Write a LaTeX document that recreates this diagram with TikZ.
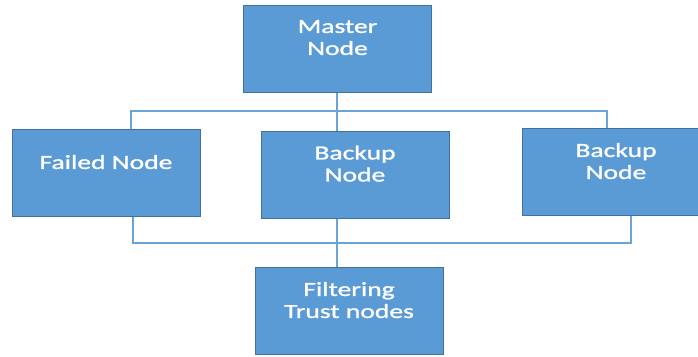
\documentclass[tikz,border=0pt]{standalone}
\usepackage{fontspec}
\setmainfont{Carlito}[FakeStretch=1.38,FakeBold=1.2]
\definecolor{boxfill}{HTML}{5B9BD5}
\definecolor{boxline}{HTML}{41719C}
\definecolor{wirecol}{HTML}{6AA5DA}
\tikzset{
  box/.style={draw=boxline, fill=boxfill, line width=1pt, minimum width=188pt,
    minimum height=87pt, inner sep=0pt, align=center, text=white,
    font=\fontsize{20}{22}\selectfont},
  wire/.style={draw=wirecol, line width=1.5pt}
}
\begin{document}
\begin{tikzpicture}[x=1pt,y=-1pt]
  \clip (0,0) rectangle (698,356);
  \useasboundingbox (0,0) rectangle (698,356);
  % boxes
  \node[box] (master)  at (337.5,48.5) {Master\\Node\\~};
  \node[box] (failed)  at (106,173)    {Failed Node\\~};
  \node[box] (backupA) at (355,174.5)  {Backup\\Node\\~};
  \node[box] (backupB) at (616,172)    {Backup\\Node\\~};
  \node[box] (filter)  at (349,311)    {Filtering\\Trust nodes\\~};
  % bus ends
  \coordinate (topL) at (131,111);
  \coordinate (topR) at (607,111);
  \coordinate (botL) at (133,243);
  \coordinate (botR) at (631,243);
  % upper bus
  \path[wire] (master.south -| 337,0) -- (backupA.north -| 337,0);
  \path[wire] (failed.north -| topL) -- (topL) -- (topR) -- (backupB.north -| topR);
  % lower bus
  \path[wire] (failed.south -| botL) -- (botL) -- (botR) -- (backupB.south -| botR);
  \path[wire] (backupA.south -| 337,0) -- (filter.north -| 337,0);
\end{tikzpicture}
\end{document}
